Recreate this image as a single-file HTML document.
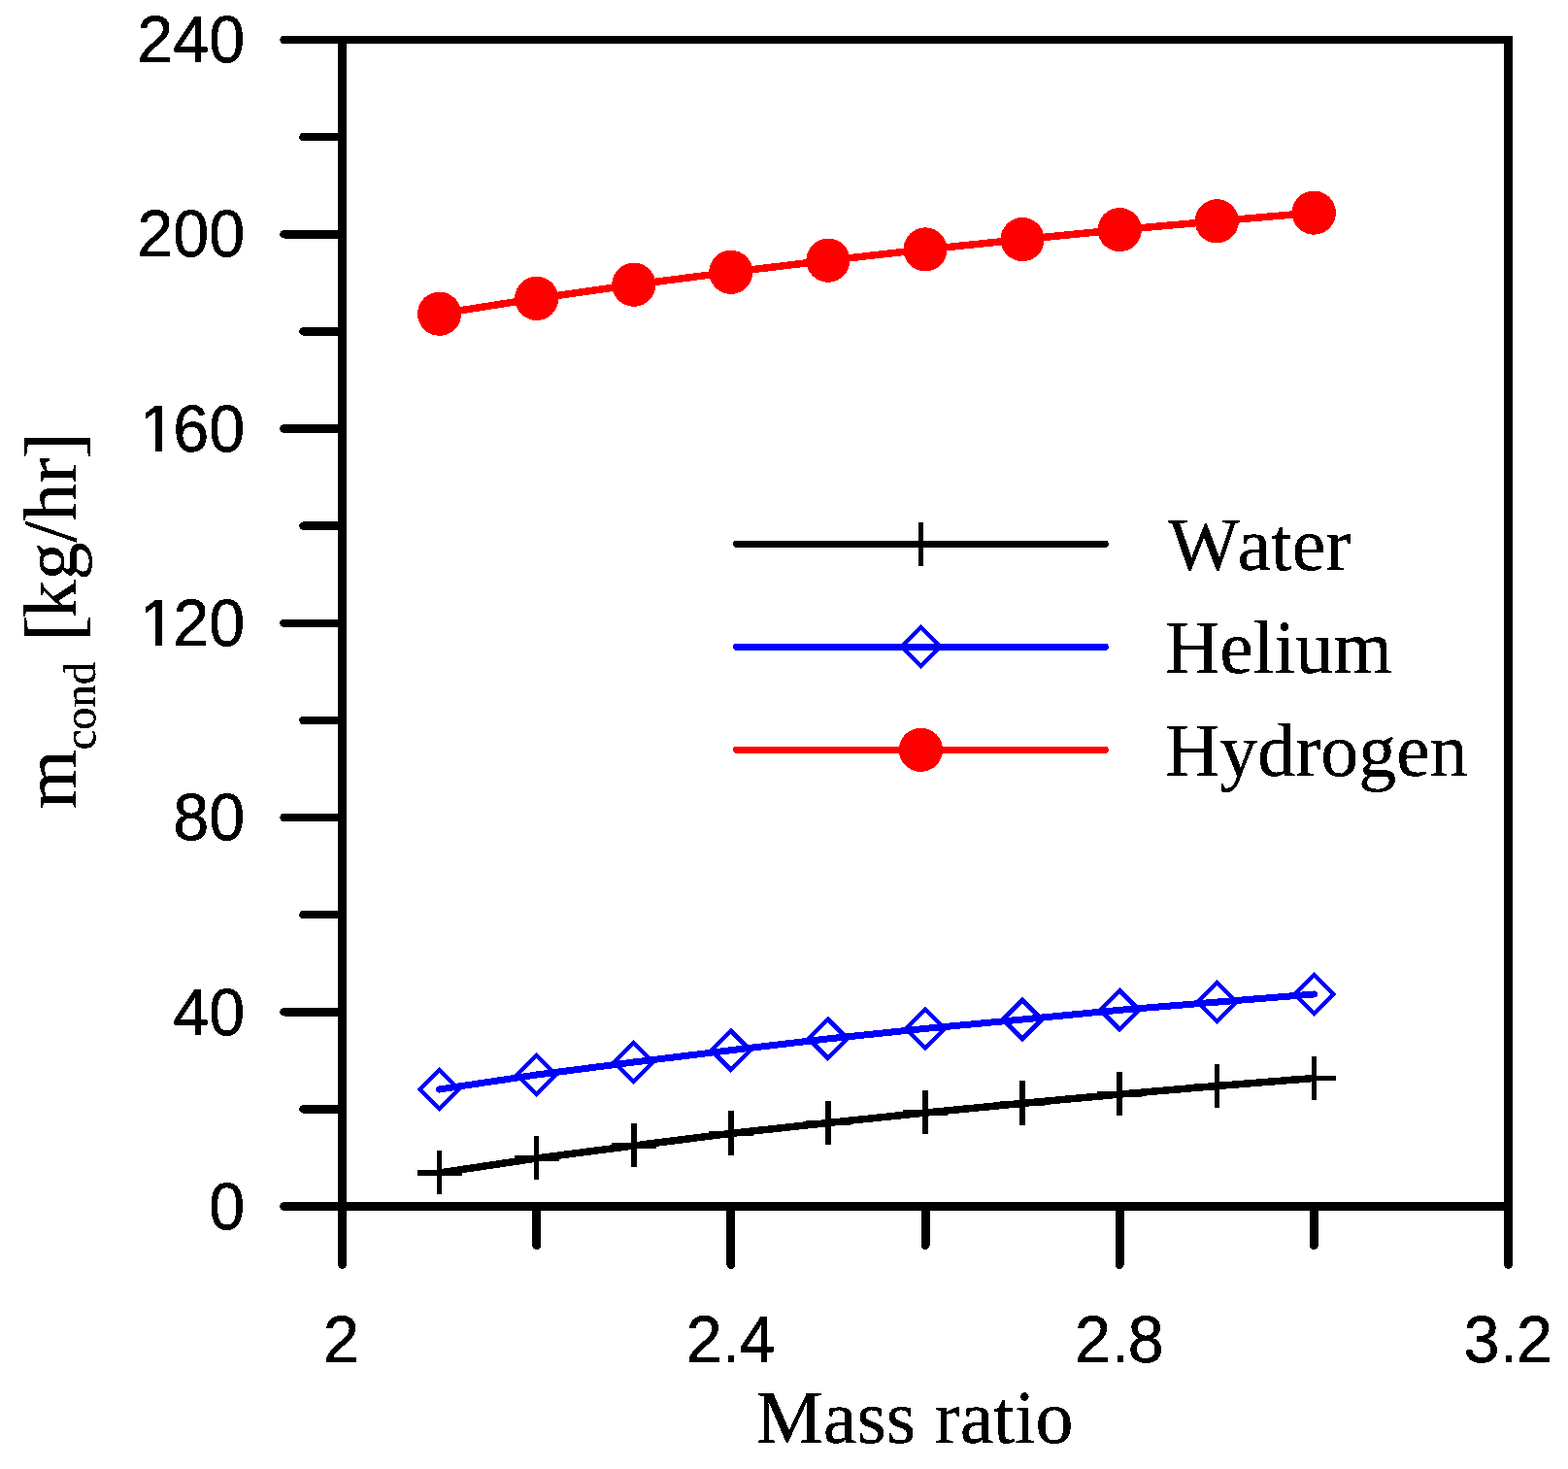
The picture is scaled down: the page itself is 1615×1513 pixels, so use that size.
<!DOCTYPE html>
<html lang="en"><head><meta charset="utf-8"><title>Condensate mass flow vs. mass ratio</title>
<style>
html,body{margin:0;padding:0;background:#fff;}
body{width:1615px;height:1513px;overflow:hidden;}
svg{display:block;}
text{font-kerning:none;text-rendering:geometricPrecision;}
.tick{font-family:"Liberation Sans",Arial,Helvetica,sans-serif;font-size:66.5px;fill:#000;stroke:#000;stroke-width:0.5px;}
.serif{font-family:"Liberation Serif","Times New Roman",Times,serif;font-size:78px;fill:#000;stroke:#000;stroke-width:0.3px;}
</style></head><body>
<svg width="1615" height="1513" viewBox="0 0 1615 1513">
<defs><clipPath id="nofoot"><path clip-rule="evenodd" d="M-130 -80H10V20H-130Z M-105.35 -5.6H-92.15V4H-105.35Z M-85.25 -5.6H-72.85V4H-85.25Z"/></clipPath><filter id="hard" x="-5%" y="-5%" width="110%" height="110%" color-interpolation-filters="sRGB"><feComponentTransfer><feFuncA type="discrete" tableValues="0 1"/></feComponentTransfer></filter></defs>
<rect x="0" y="0" width="1615" height="1513" fill="#fff"/>
<g shape-rendering="crispEdges">
<g stroke="#000" fill="none" stroke-linecap="round">
<line x1="292.50" y1="1242.50" x2="352.50" y2="1242.50" stroke-width="8.5"/>
<line x1="312.50" y1="1142.38" x2="352.50" y2="1142.38" stroke-width="8.5"/>
<line x1="292.50" y1="1042.25" x2="352.50" y2="1042.25" stroke-width="8.5"/>
<line x1="312.50" y1="942.12" x2="352.50" y2="942.12" stroke-width="8.5"/>
<line x1="292.50" y1="842.00" x2="352.50" y2="842.00" stroke-width="8.5"/>
<line x1="312.50" y1="741.88" x2="352.50" y2="741.88" stroke-width="8.5"/>
<line x1="292.50" y1="641.75" x2="352.50" y2="641.75" stroke-width="8.5"/>
<line x1="312.50" y1="541.62" x2="352.50" y2="541.62" stroke-width="8.5"/>
<line x1="292.50" y1="441.50" x2="352.50" y2="441.50" stroke-width="8.5"/>
<line x1="312.50" y1="341.38" x2="352.50" y2="341.38" stroke-width="8.5"/>
<line x1="292.50" y1="241.25" x2="352.50" y2="241.25" stroke-width="8.5"/>
<line x1="312.50" y1="141.12" x2="352.50" y2="141.12" stroke-width="8.5"/>
<line x1="292.50" y1="41.00" x2="352.50" y2="41.00" stroke-width="8.5"/>
<line x1="352.50" y1="1242.50" x2="352.50" y2="1302.50" stroke-width="9"/>
<line x1="552.67" y1="1242.50" x2="552.67" y2="1282.50" stroke-width="9"/>
<line x1="752.83" y1="1242.50" x2="752.83" y2="1302.50" stroke-width="9"/>
<line x1="953.00" y1="1242.50" x2="953.00" y2="1282.50" stroke-width="9"/>
<line x1="1153.17" y1="1242.50" x2="1153.17" y2="1302.50" stroke-width="9"/>
<line x1="1353.33" y1="1242.50" x2="1353.33" y2="1282.50" stroke-width="9"/>
<line x1="1553.50" y1="1242.50" x2="1553.50" y2="1302.50" stroke-width="9"/>
</g>
<g fill="#000">
<rect x="348" y="37" width="9" height="1210"/>
<rect x="1549" y="37" width="9" height="1210"/>
<rect x="348" y="37" width="1210" height="8"/>
<rect x="348" y="1238" width="1210" height="9"/>
</g>
</g>
<g filter="url(#hard)">
<g class="tick" text-anchor="end">
<text transform="translate(252.2,1265.7) scale(1,1.03)">0</text>
<text transform="translate(252.2,1065.5) scale(1,1.03)">40</text>
<text transform="translate(252.2,865.2) scale(1,1.03)">80</text>
<text x="-71.37 -36.98 0.00" clip-path="url(#nofoot)" transform="translate(252.2,665.0) scale(1,1.03)">120</text>
<text x="-71.37 -36.98 0.00" clip-path="url(#nofoot)" transform="translate(252.2,464.7) scale(1,1.03)">160</text>
<text transform="translate(252.2,264.4) scale(1,1.03)">200</text>
<text transform="translate(252.2,64.2) scale(1,1.03)">240</text>
</g>
<g class="tick" text-anchor="middle">
<text transform="translate(351.5,1403) scale(1,1.03)">2</text>
<text text-anchor="start" transform="translate(751.8,1403) scale(1,1.03)"><tspan x="-45.1">2</tspan><tspan x="-7.7" stroke-width="0.1">.</tspan><tspan x="9.6">4</tspan></text>
<text text-anchor="start" transform="translate(1152.2,1403) scale(1,1.03)"><tspan x="-45.1">2</tspan><tspan x="-7.7" stroke-width="0.1">.</tspan><tspan x="9.6">8</tspan></text>
<text text-anchor="start" transform="translate(1552.5,1403) scale(1,1.03)"><tspan x="-45.1">3</tspan><tspan x="-7.7" stroke-width="0.1">.</tspan><tspan x="9.6">2</tspan></text>
</g>
<text class="serif" x="778.5" y="1486.3">Mass ratio</text>
<text class="serif" transform="translate(78,833) rotate(-90)">m<tspan font-size="46.5" dy="19.5">cond</tspan><tspan dy="-19.5"> </tspan><tspan font-size="82" dy="3.65" dx="1.4">[</tspan><tspan dy="-3.65" dx="-2.7">kg/hr</tspan><tspan font-size="82" dy="3.65" dx="-0.6">]</tspan></text>
</g>
<g shape-rendering="crispEdges">
<g stroke="#000" fill="none">
<polyline points="452.6,1208.0 552.7,1193.0 652.8,1180.0 752.8,1167.4 852.9,1156.5 953.0,1146.1 1053.1,1136.4 1153.2,1127.1 1253.3,1118.5 1353.3,1110.5" stroke-width="7.5" stroke-linecap="round" stroke-linejoin="round"/>
<path d="M429.6 1208.0H475.6M452.6 1185.0V1230.2" stroke-width="5.5"/>
<path d="M529.7 1193.0H575.7M552.7 1170.0V1215.2" stroke-width="5.5"/>
<path d="M629.8 1180.0H675.8M652.8 1157.0V1202.2" stroke-width="5.5"/>
<path d="M729.8 1167.4H775.8M752.8 1144.4V1189.6" stroke-width="5.5"/>
<path d="M829.9 1156.5H875.9M852.9 1133.5V1178.7" stroke-width="5.5"/>
<path d="M930.0 1146.1H976.0M953.0 1123.1V1168.3" stroke-width="5.5"/>
<path d="M1030.1 1136.4H1076.1M1053.1 1113.4V1158.6" stroke-width="5.5"/>
<path d="M1130.2 1127.1H1176.2M1153.2 1104.1V1149.3" stroke-width="5.5"/>
<path d="M1230.3 1118.5H1276.3M1253.3 1095.5V1140.7" stroke-width="5.5"/>
<path d="M1330.3 1110.5H1376.3M1353.3 1087.5V1132.7" stroke-width="5.5"/>
</g>
<g stroke="#0000ff" fill="none">
<polyline points="452.6,1122.0 552.7,1107.0 652.8,1094.0 752.8,1081.7 852.9,1069.9 953.0,1059.4 1053.1,1050.0 1153.2,1040.3 1253.3,1032.1 1353.3,1024.0" stroke-width="7" stroke-linecap="round" stroke-linejoin="round"/>
<path d="M432.6 1122.0L452.6 1102.0L472.6 1122.0L452.6 1142.0Z" stroke-width="4.5" stroke-linejoin="miter"/>
<path d="M532.7 1107.0L552.7 1087.0L572.7 1107.0L552.7 1127.0Z" stroke-width="4.5" stroke-linejoin="miter"/>
<path d="M632.8 1094.0L652.8 1074.0L672.8 1094.0L652.8 1114.0Z" stroke-width="4.5" stroke-linejoin="miter"/>
<path d="M732.8 1081.7L752.8 1061.7L772.8 1081.7L752.8 1101.7Z" stroke-width="4.5" stroke-linejoin="miter"/>
<path d="M832.9 1069.9L852.9 1049.9L872.9 1069.9L852.9 1089.9Z" stroke-width="4.5" stroke-linejoin="miter"/>
<path d="M933.0 1059.4L953.0 1039.4L973.0 1059.4L953.0 1079.4Z" stroke-width="4.5" stroke-linejoin="miter"/>
<path d="M1033.1 1050.0L1053.1 1030.0L1073.1 1050.0L1053.1 1070.0Z" stroke-width="4.5" stroke-linejoin="miter"/>
<path d="M1133.2 1040.3L1153.2 1020.3L1173.2 1040.3L1153.2 1060.3Z" stroke-width="4.5" stroke-linejoin="miter"/>
<path d="M1233.3 1032.1L1253.3 1012.1L1273.3 1032.1L1253.3 1052.1Z" stroke-width="4.5" stroke-linejoin="miter"/>
<path d="M1333.3 1024.0L1353.3 1004.0L1373.3 1024.0L1353.3 1044.0Z" stroke-width="4.5" stroke-linejoin="miter"/>
</g>
<g stroke="#ff0000" fill="none">
<polyline points="452.6,323.2 552.7,307.4 652.8,293.2 752.8,280.3 852.9,268.2 953.0,256.9 1053.1,246.6 1153.2,236.6 1253.3,227.8 1353.3,219.1" stroke-width="7.5" stroke-linecap="round" stroke-linejoin="round"/>
</g>
<g fill="#ff0000">
<circle cx="452.6" cy="323.2" r="22.6"/>
<circle cx="552.7" cy="307.4" r="22.6"/>
<circle cx="652.8" cy="293.2" r="22.6"/>
<circle cx="752.8" cy="280.3" r="22.6"/>
<circle cx="852.9" cy="268.2" r="22.6"/>
<circle cx="953.0" cy="256.9" r="22.6"/>
<circle cx="1053.1" cy="246.6" r="22.6"/>
<circle cx="1153.2" cy="236.6" r="22.6"/>
<circle cx="1253.3" cy="227.8" r="22.6"/>
<circle cx="1353.3" cy="219.1" r="22.6"/>
</g>
<g fill="none" stroke-linecap="round">
<line x1="758.5" y1="560.3" x2="1138.3" y2="560.3" stroke="#000" stroke-width="7"/>
<line x1="758.5" y1="666.2" x2="1138.3" y2="666.2" stroke="#0000ff" stroke-width="7"/>
<line x1="758.5" y1="772.3" x2="1138.3" y2="772.3" stroke="#ff0000" stroke-width="7"/>
</g>
<path d="M948.4 537.9V582.7" stroke="#000" stroke-width="5.5" fill="none"/>
<path d="M928.4 666.2L948.4 646.2L968.4 666.2L948.4 686.2Z" stroke="#0000ff" stroke-width="4.5" fill="none"/>
<circle cx="948.4" cy="772.3" r="22.6" fill="#ff0000"/>
</g>
<g class="serif" filter="url(#hard)">
<text x="1203" y="586.9">W<tspan dx="-2.2">ater</tspan></text>
<text x="1199.9" y="692.9">Helium</text>
<text x="1199.9" y="798.9">Hydrogen</text>
</g>
</svg>
</body></html>
